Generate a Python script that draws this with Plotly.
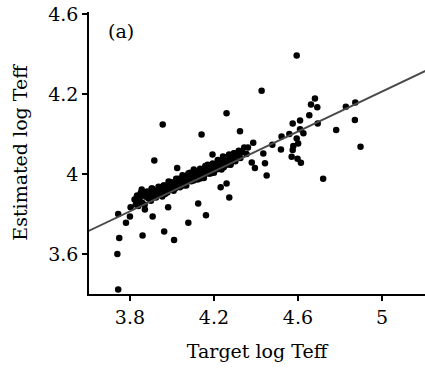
import plotly.graph_objects as go

# Scattered points (Target log Teff, Estimated log Teff)
x_sparse = [4.594, 4.427, 4.260, 3.956, 4.141, 4.324, 3.916, 4.025, 4.193, 4.243,
            4.387, 4.435, 4.395, 4.443, 4.451, 4.519, 4.522, 4.559, 4.575, 4.610,
            4.654, 4.681, 4.662, 4.692, 4.828, 4.873, 4.871, 4.782, 4.694, 4.626,
            4.610, 4.594, 4.601, 4.578, 4.575, 4.570, 4.598, 4.614, 4.478, 4.380,
            4.898, 4.720, 4.260, 4.232, 4.273, 4.125, 4.162, 4.078, 3.982, 3.908,
            3.781, 3.744, 3.749, 3.860, 3.963, 4.010, 3.740, 3.744, 3.803, 3.856,
            3.903, 3.833, 3.871, 3.848, 3.800, 3.963, 4.362, 4.355]
y_sparse = [4.296, 4.208, 4.152, 4.124, 4.099, 4.107, 4.034, 4.015, 4.049, 4.044,
            4.078, 4.051, 4.015, 4.027, 3.996, 4.061, 4.094, 4.100, 4.126, 4.134,
            4.147, 4.189, 4.174, 4.167, 4.168, 4.179, 4.135, 4.110, 4.126, 4.102,
            4.112, 4.089, 4.076, 4.070, 4.060, 4.043, 4.038, 4.028, 4.073, 4.029,
            4.068, 3.988, 3.976, 3.967, 3.941, 3.926, 3.897, 3.878, 3.917, 3.894,
            3.878, 3.900, 3.840, 3.846, 3.856, 3.835, 3.800, 3.711, 3.917, 3.961,
            3.964, 3.943, 3.911, 3.927, 3.894, 3.971, 4.066, 4.050]

# Dense band of points along the fit
x_band = [3.822, 3.828, 3.834, 3.840, 3.846, 3.852, 3.858, 3.864, 3.870, 3.876,
          3.882, 3.888, 3.894, 3.900, 3.906, 3.912, 3.918, 3.924, 3.930, 3.936,
          3.942, 3.948, 3.954, 3.960, 3.966, 3.972, 3.978, 3.984, 3.990, 3.996,
          4.002, 4.008, 4.014, 4.020, 4.026, 4.032, 4.038, 4.044, 4.050, 4.056,
          4.062, 4.068, 4.074, 4.080, 4.086, 4.092, 4.098, 4.104, 4.110, 4.116,
          4.122, 4.128, 4.134, 4.140, 4.146, 4.152, 4.158, 4.164, 4.170, 4.176,
          4.182, 4.188, 4.194, 4.200, 4.206, 4.212, 4.218, 4.224, 4.230, 4.236,
          4.242, 4.248, 4.254, 4.260, 4.266, 4.272, 4.278, 4.284, 4.290, 4.296,
          4.302, 4.310, 4.318, 4.326, 4.334, 4.344,
          3.951, 3.959, 3.967, 3.975, 3.983, 3.991, 3.999, 4.007, 4.015, 4.023,
          4.031, 4.039, 4.047, 4.055, 4.063, 4.071, 4.079, 4.087, 4.095, 4.103,
          4.111, 4.119, 4.127, 4.135, 4.143, 4.151, 4.159, 4.167, 4.175, 4.183,
          4.191, 4.199, 4.207, 4.215, 4.223, 4.231, 4.239, 4.247, 4.255, 4.263,
          4.271, 4.279, 4.287, 4.295]
y_band = [3.936, 3.924, 3.946, 3.920, 3.938, 3.953, 3.928, 3.948, 3.923, 3.943,
          3.956, 3.939, 3.952, 3.933, 3.964, 3.947, 3.959, 3.941, 3.957, 3.968,
          3.949, 3.958, 3.944, 3.971, 3.958, 3.969, 3.954, 3.981, 3.969, 3.961,
          3.979, 3.958, 3.977, 3.988, 3.971, 3.985, 3.967, 3.981, 3.997, 3.976,
          3.989, 3.971, 3.997, 3.986, 4.003, 3.982, 3.995, 4.011, 3.989, 4.004,
          3.986, 4.000, 4.013, 3.994, 4.009, 3.990, 4.016, 4.005, 4.023, 4.001,
          4.015, 4.007, 4.026, 4.003, 4.023, 4.017, 4.035, 4.013, 4.027, 4.011,
          4.036, 4.023, 4.042, 4.023, 4.034, 4.049, 4.024, 4.042, 4.034, 4.051,
          4.032, 4.046, 4.058, 4.040, 4.055, 4.066,
          3.957, 3.967, 3.950, 3.967, 3.961, 3.980, 3.967, 3.977, 3.964, 3.977,
          3.988, 3.975, 3.986, 3.971, 3.992, 3.985, 4.002, 3.984, 3.995, 3.984,
          4.004, 3.994, 4.004, 3.989, 4.011, 4.004, 4.020, 4.002, 4.014, 4.001,
          4.023, 4.014, 4.024, 4.012, 4.033, 4.020, 4.032, 4.017, 4.032, 4.026,
          4.043, 4.023, 4.037, 4.052]

# Fitted line
fit_slope = 0.2494
fit_intercept = 2.959
line_x = [3.60, 5.21]

# Axis ticks (labels as printed in the figure)
x_ticks = [3.8, 4.2, 4.6, 5.0]
x_ticktext = ["3.8", "4.2", "4.6", "5"]
y_ticks = [3.8, 4.0, 4.2, 4.4]
y_ticktext = ["3.6", "4", "4.2", "4.6"]

font = "DejaVu Serif"
fs = 19

fig = go.Figure()
fig.add_trace(go.Scatter(
    x=x_sparse + x_band, y=y_sparse + y_band, mode="markers",
    marker=dict(color="black", size=6.5, line=dict(width=0)),
    showlegend=False, hoverinfo="skip"))
fig.add_trace(go.Scatter(
    x=line_x, y=[fit_intercept + fit_slope * v for v in line_x], mode="lines",
    line=dict(color="#4a4a4a", width=2), showlegend=False, hoverinfo="skip"))

fig.add_annotation(x=0.095, y=0.933, xref="paper", yref="paper",
                   xanchor="center", yanchor="middle",
                   text="(a)", showarrow=False,
                   font=dict(family=font, size=fs, color="black"))

fig.update_layout(
    width=425, height=369,
    margin=dict(l=89, r=0, t=12, b=75),
    paper_bgcolor="white", plot_bgcolor="white",
    font=dict(family=font, size=fs, color="black"),
    xaxis=dict(range=[3.605, 5.205], tickvals=x_ticks, ticktext=x_ticktext,
               showgrid=False, zeroline=False, showline=True, linecolor="black",
               linewidth=1.5, ticks="outside", ticklen=5, tickwidth=1.5,
               tickcolor="black", tickfont=dict(family=font, size=fs),
               title=dict(text="Target log Teff", standoff=18,
                          font=dict(family=font, size=fs))),
    yaxis=dict(range=[3.70, 4.405], tickvals=y_ticks, ticktext=y_ticktext,
               showgrid=False, zeroline=False, showline=True, linecolor="black",
               linewidth=1.5, ticks="outside", ticklen=5, tickwidth=1.5,
               tickcolor="black", tickfont=dict(family=font, size=fs),
               title=dict(text="Estimated log Teff", standoff=16,
                          font=dict(family=font, size=fs))),
)

fig.write_html("out.html")
